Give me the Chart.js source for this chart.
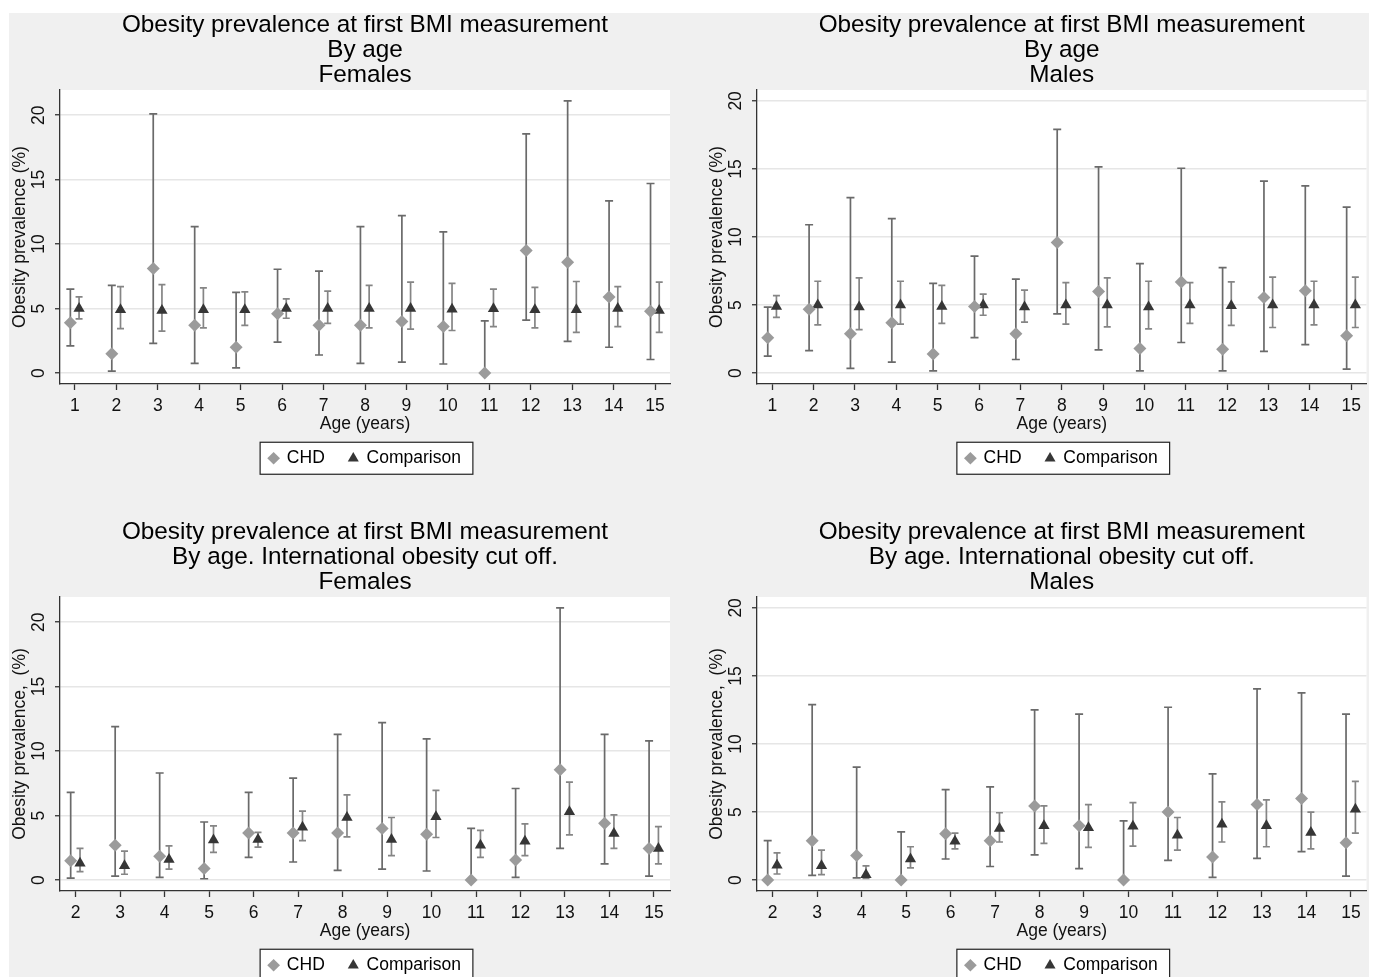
<!DOCTYPE html>
<html>
<head>
<meta charset="utf-8">
<script src="https://cdn.jsdelivr.net/npm/chart.js@4.4.0/dist/chart.umd.min.js"></script>
<style>
  html, body { margin: 0; padding: 0; background: #fff; overflow: hidden; }
  #bg { position: absolute; left: 9px; top: 13px; width: 1360px; height: 964px; background: #f0f0f0; }
  .panel { position: absolute; }
</style>
</head>
<body>
<div id="bg"></div>
<div class="panel" style="left:8px;top:10px;width:680px;height:467px"><canvas id="females"></canvas></div>
<div class="panel" style="left:705px;top:10px;width:668px;height:467px"><canvas id="males"></canvas></div>
<div class="panel" style="left:8px;top:517px;width:680px;height:467px"><canvas id="females-iotf"></canvas></div>
<div class="panel" style="left:705px;top:517px;width:668px;height:467px"><canvas id="males-iotf"></canvas></div>
<script>
let ages_1 = [1, 2, 3, 4, 5, 6, 7, 8, 9, 10, 11, 12, 13, 14, 15]
let ages_2 = [2, 3, 4, 5, 6, 7, 8, 9, 10, 11, 12, 13, 14, 15]
let y_ticks = [0, 5, 10, 15, 20]

// By age, females
let f_chd    = [3.9, 1.5, 8.1, 3.7, 2.0, 4.6, 3.7, 3.7, 4.0, 3.6, 0.0, 9.5, 8.6, 5.9, 4.8]
let f_chd_lo = [2.1, 0.15, 2.3, 0.75, 0.4, 2.4, 1.4, 0.75, 0.85, 0.7, 0.0, 4.1, 2.45, 2.0, 1.05]
let f_chd_hi = [6.5, 6.8, 20.1, 11.35, 6.25, 8.05, 7.9, 11.35, 12.2, 10.95, 4.05, 18.55, 21.1, 13.35, 14.7]
let f_cmp    = [5.0, 4.9, 4.85, 4.9, 4.9, 5.0, 5.0, 5.0, 5.0, 4.95, 4.98, 4.9, 4.9, 5.0, 4.85]
let f_cmp_lo = [4.2, 3.45, 3.25, 3.5, 3.7, 4.25, 3.85, 3.5, 3.4, 3.3, 3.6, 3.5, 3.15, 3.6, 3.15]
let f_cmp_hi = [5.9, 6.7, 6.85, 6.6, 6.3, 5.75, 6.35, 6.8, 7.05, 6.95, 6.5, 6.65, 7.1, 6.7, 7.05]

// By age, males
let m_chd    = [2.6, 4.7, 2.9, 3.7, 1.4, 4.9, 2.9, 9.6, 6.0, 1.8, 6.7, 1.75, 5.55, 6.05, 2.75]
let m_chd_lo = [1.25, 1.65, 0.35, 0.8, 0.17, 2.6, 1.0, 4.35, 1.7, 0.17, 2.25, 0.17, 1.6, 2.1, 0.3]
let m_chd_hi = [4.85, 10.9, 12.9, 11.35, 6.6, 8.6, 6.9, 17.9, 15.15, 8.05, 15.05, 7.75, 14.1, 13.75, 12.2]
let m_cmp    = [4.9, 5.0, 4.85, 5.0, 4.9, 5.0, 4.85, 5.0, 5.0, 4.85, 5.0, 4.95, 5.0, 5.0, 5.0]
let m_cmp_lo = [4.1, 3.55, 3.2, 3.6, 3.65, 4.25, 3.75, 3.6, 3.4, 3.25, 3.65, 3.5, 3.35, 3.55, 3.35]
let m_cmp_hi = [5.7, 6.75, 7.0, 6.75, 6.45, 5.8, 6.1, 6.65, 7.0, 6.75, 6.65, 6.7, 7.05, 6.75, 7.05]

// International cut off, females
let fi_chd    = [1.5, 2.7, 1.85, 0.9, 3.65, 3.65, 3.65, 4.0, 3.55, 0.0, 1.55, 8.55, 4.4, 2.45]
let fi_chd_lo = [0.15, 0.3, 0.2, 0.1, 1.75, 1.4, 0.75, 0.85, 0.7, 0.0, 0.2, 2.45, 1.25, 0.3]
let fi_chd_hi = [6.8, 11.9, 8.3, 4.5, 6.8, 7.9, 11.3, 12.2, 10.95, 4.0, 7.1, 21.1, 11.3, 10.8]
let fi_cmp    = [1.3, 1.1, 1.6, 3.1, 3.15, 4.1, 4.85, 3.15, 4.9, 2.7, 3.0, 5.3, 3.6, 2.45]
let fi_cmp_lo = [0.65, 0.45, 0.85, 2.15, 2.55, 3.05, 3.35, 1.9, 3.3, 1.75, 1.9, 3.5, 2.45, 1.25]
let fi_cmp_hi = [2.45, 2.25, 2.65, 4.2, 3.7, 5.35, 6.6, 4.85, 6.95, 3.85, 4.35, 7.6, 5.05, 4.15]

// International cut off, males
let mi_chd    = [0.0, 2.9, 1.8, 0.0, 3.4, 2.9, 5.45, 4.0, 0.0, 5.0, 1.7, 5.55, 6.0, 2.75]
let mi_chd_lo = [0.0, 0.35, 0.17, 0.0, 1.55, 1.0, 1.85, 0.85, 0.0, 1.45, 0.2, 1.6, 2.1, 0.3]
let mi_chd_hi = [2.9, 12.9, 8.3, 3.55, 6.65, 6.85, 12.5, 12.2, 4.35, 12.7, 7.8, 14.05, 13.75, 12.2]
let mi_cmp    = [1.1, 1.05, 0.4, 1.55, 2.85, 3.8, 4.0, 3.85, 3.95, 3.3, 4.1, 4.0, 3.5, 5.2]
let mi_cmp_lo = [0.45, 0.4, 0.12, 0.9, 2.3, 2.8, 2.7, 2.4, 2.5, 2.2, 2.8, 2.45, 2.3, 3.45]
let mi_cmp_hi = [2.0, 2.2, 1.05, 2.45, 3.45, 4.95, 5.45, 5.55, 5.7, 4.6, 5.75, 5.9, 5.0, 7.25]

Chart.defaults.font.family = "'Liberation Sans', Arial, sans-serif"
Chart.defaults.color = "#111"

// white plot region + boxed legend
let plot_bg = {
    id: "plot_bg",
    beforeDraw(chart) {
        let ctx = chart.ctx
        let a = chart.chartArea
        ctx.save()
        ctx.fillStyle = "#ffffff"
        ctx.fillRect(a.left, a.top, a.right - a.left, a.bottom - a.top)
        let boxes = chart.legend.legendHitBoxes
        if (boxes && boxes.length) {
            let first = boxes[0]
            let last = boxes[boxes.length - 1]
            let mid = first.top + first.height / 2
            let x0 = first.left - 9
            let x1 = last.left + last.width + 12
            ctx.fillRect(x0, mid - 16, x1 - x0, 32)
            ctx.strokeStyle = "#222"
            ctx.lineWidth = 1.2
            ctx.strokeRect(x0, mid - 16, x1 - x0, 32)
        }
        ctx.restore()
    }
}

let error_bars = {
    id: "error_bars",
    beforeDatasetsDraw(chart) {
        let ctx = chart.ctx
        let xs = chart.scales.x
        let ys = chart.scales.y
        ctx.save()
        chart.data.datasets.forEach(ds => {
            ctx.strokeStyle = ds.barColor
            ctx.lineWidth = 1.7
            ds.data.forEach((p, i) => {
                let x = xs.getPixelForValue(p.x)
                let top = ys.getPixelForValue(ds.hi[i])
                let bottom = ys.getPixelForValue(ds.lo[i])
                ctx.beginPath()
                ctx.moveTo(x, bottom)
                ctx.lineTo(x, top)
                ctx.moveTo(x - ds.cap, top)
                ctx.lineTo(x + ds.cap, top)
                ctx.moveTo(x - ds.cap, bottom)
                ctx.lineTo(x + ds.cap, bottom)
                ctx.stroke()
            })
        })
        ctx.restore()
    }
}

function make_chart(id, p) {
    new Chart(document.getElementById(id), {
        type: "scatter",
        plugins: [plot_bg, error_bars],
        data: {
            datasets: [{
                label: "CHD",
                data: p.ages.map((a, i) => ({x: a - 0.11, y: p.chd[i]})),
                lo: p.chd_lo,
                hi: p.chd_hi,
                barColor: "#6a6a6a",
                cap: 4,
                pointStyle: "rectRot",
                pointRadius: 6.5,
                pointBackgroundColor: "#9b9b9b",
                backgroundColor: "#9b9b9b",
                borderColor: "#9b9b9b",
                pointBorderWidth: 0,
                borderWidth: 0
            }, {
                label: "Comparison",
                data: p.ages.map((a, i) => ({x: a + 0.1, y: p.cmp[i]})),
                lo: p.cmp_lo,
                hi: p.cmp_hi,
                barColor: "#858585",
                cap: 3.5,
                pointStyle: "triangle",
                pointRadius: 6.5,
                pointBackgroundColor: "#363636",
                backgroundColor: "#363636",
                borderColor: "#363636",
                pointBorderWidth: 0,
                borderWidth: 0
            }]
        },
        options: {
            responsive: true,
            maintainAspectRatio: false,
            animation: false,
            layout: {padding: {left: 2, right: p.pad_right, top: 0, bottom: 0}},
            plugins: {
                title: {
                    display: true,
                    text: p.title,
                    fullSize: false,
                    color: "#000",
                    font: {size: 24.3, weight: "normal", lineHeight: 25 / 24.3},
                    padding: {top: 3, bottom: 2}
                },
                legend: {
                    position: "bottom",
                    fullSize: false,
                    labels: {usePointStyle: true, boxWidth: 9, boxHeight: 9, padding: 24, color: "#000", font: {size: 17.5}}
                },
                tooltip: {enabled: false}
            },
            scales: {
                x: {
                    type: "linear",
                    min: p.x_min,
                    max: p.x_max,
                    afterBuildTicks: s => { s.ticks = p.ages.map(v => ({value: v})) },
                    afterFit: s => { s.height = 41.5 },
                    ticks: {color: "#111", font: {size: 17.5}, padding: 6, autoSkip: false, maxRotation: 0},
                    grid: {drawOnChartArea: false, tickColor: "#333", tickLength: 6, tickWidth: 1.3},
                    border: {color: "#333", width: 1.3},
                    title: {display: true, text: "Age (years)", color: "#111", font: {size: 17.5}, padding: {top: 0, bottom: -9}}
                },
                y: {
                    type: "linear",
                    min: p.y_min,
                    max: p.y_max,
                    afterBuildTicks: s => { s.ticks = y_ticks.map(v => ({value: v})) },
                    afterFit: s => { s.width = 50 },
                    ticks: {minRotation: 90, maxRotation: 90, crossAlign: "center", padding: 6, color: "#111", font: {size: 17.5}},
                    grid: {color: "#e6e6e6", lineWidth: 1.5, tickColor: "#333", tickLength: 5, tickWidth: 1.3},
                    border: {color: "#333", width: 1.3},
                    title: {display: true, text: p.y_title, color: "#111", font: {size: 17.5}, padding: {top: 0, bottom: 0}}
                }
            }
        }
    })
}

make_chart("females", {
    title: ["Obesity prevalence at first BMI measurement", "By age", "Females"],
    y_title: "Obesity prevalence (%)",
    ages: ages_1, chd: f_chd, chd_lo: f_chd_lo, chd_hi: f_chd_hi, cmp: f_cmp, cmp_lo: f_cmp_lo, cmp_hi: f_cmp_hi,
    x_min: 0.64, x_max: 15.36, y_min: -0.85, y_max: 21.95, pad_right: 18
})
make_chart("males", {
    title: ["Obesity prevalence at first BMI measurement", "By age", "Males"],
    y_title: "Obesity prevalence (%)",
    ages: ages_1, chd: m_chd, chd_lo: m_chd_lo, chd_hi: m_chd_hi, cmp: m_cmp, cmp_lo: m_cmp_lo, cmp_hi: m_cmp_hi,
    x_min: 0.63, x_max: 15.37, y_min: -0.8, y_max: 20.8, pad_right: 6
})
make_chart("females-iotf", {
    title: ["Obesity prevalence at first BMI measurement", "By age. International obesity cut off.", "Females"],
    y_title: "Obesity prevalence,  (%)",
    ages: ages_2, chd: fi_chd, chd_lo: fi_chd_lo, chd_hi: fi_chd_hi, cmp: fi_cmp, cmp_lo: fi_cmp_lo, cmp_hi: fi_cmp_hi,
    x_min: 1.65, x_max: 15.36, y_min: -0.85, y_max: 21.95, pad_right: 18
})
make_chart("males-iotf", {
    title: ["Obesity prevalence at first BMI measurement", "By age. International obesity cut off.", "Males"],
    y_title: "Obesity prevalence,  (%)",
    ages: ages_2, chd: mi_chd, chd_lo: mi_chd_lo, chd_hi: mi_chd_hi, cmp: mi_cmp, cmp_lo: mi_cmp_lo, cmp_hi: mi_cmp_hi,
    x_min: 1.65, x_max: 15.35, y_min: -0.8, y_max: 20.8, pad_right: 6
})
</script>
</body>
</html>
